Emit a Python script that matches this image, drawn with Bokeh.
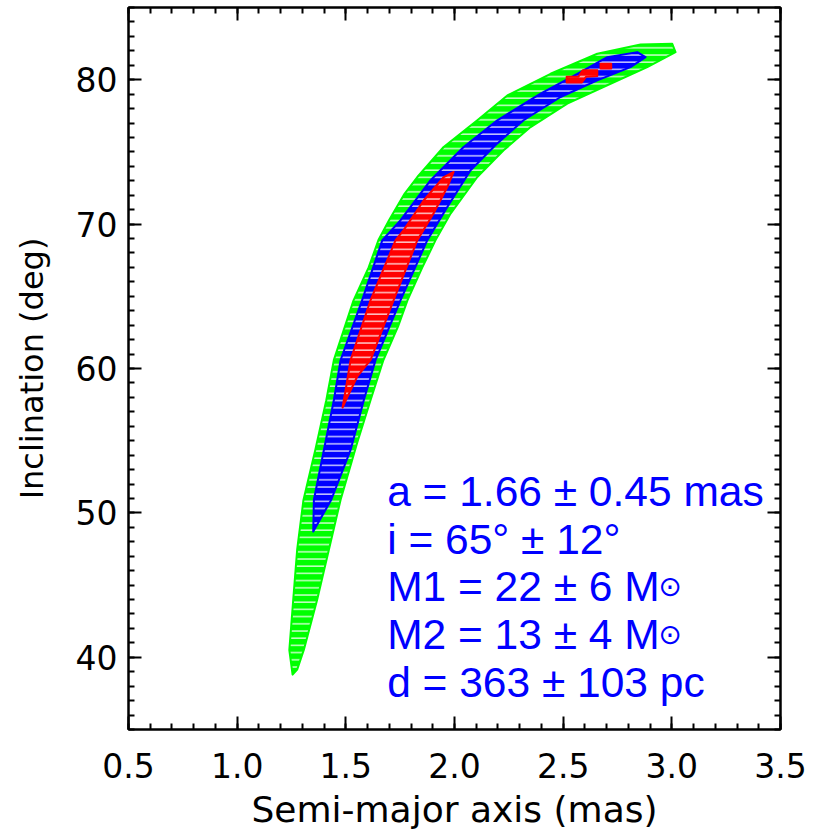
from bokeh.plotting import figure
from bokeh.models import Range1d, LinearAxis, SingleIntervalTicker, NumeralTickFormatter, Label
from bokeh.embed import file_html
from bokeh.resources import INLINE

# ---- data: region outlines in (a [mas], i [deg]) ----
green_a = [1.255, 1.240, 1.258, 1.276, 1.305, 1.360, 1.410, 1.445, 1.535, 1.605, 1.650, 1.700,
           1.770, 1.829, 1.950, 2.105, 2.243, 2.442, 2.657, 2.856, 3.002,
           3.017, 2.887, 2.718, 2.519, 2.350, 2.226, 2.105, 1.982, 1.913, 1.852, 1.784,
           1.740, 1.673, 1.614, 1.552, 1.476, 1.422, 1.368, 1.307, 1.276]
green_i = [38.8, 40.5, 44.0, 47.45, 50.9, 54.4, 57.8, 60.6, 64.7, 67.0, 68.9, 70.3,
           72.1, 73.26, 75.34, 77.19, 78.91, 80.41, 81.80, 82.44, 82.49,
           81.91, 80.87, 79.72, 78.34, 76.72, 75.11, 73.26, 70.73, 68.89, 67.0, 64.74,
           62.9, 60.59, 57.82, 54.85, 50.91, 47.45, 43.99, 40.53, 39.15]

blue_a = [1.350, 1.353, 1.399, 1.445, 1.476, 1.575, 1.668, 1.752, 1.890, 2.042, 2.197, 2.396,
          2.565, 2.703, 2.841, 2.879,
          2.810, 2.657, 2.488, 2.318, 2.197, 2.074, 1.967, 1.875, 1.752, 1.637, 1.583,
          1.522, 1.433]
blue_i = [48.71, 50.91, 54.36, 57.82, 60.59, 64.74, 68.89, 70.27, 73.04, 75.34, 77.19, 79.03,
          80.41, 81.56, 81.91, 81.56,
          80.87, 79.95, 78.80, 77.19, 75.59, 73.73, 71.19, 68.89, 64.74, 60.59, 57.82,
          54.36, 50.91]

red_a = [1.485, 1.500, 1.522, 1.614, 1.729, 1.766, 1.859, 1.951, 1.996,
         1.967, 1.904, 1.829, 1.720, 1.614, 1.552, 1.500]
red_i = [57.30, 58.6, 60.59, 64.74, 68.89, 69.58, 71.65, 73.26, 73.61,
         72.57, 70.75, 68.89, 64.74, 60.59, 59.43, 57.8]

red_blob1_a = [2.516, 2.585, 2.605, 2.657, 2.657, 2.590, 2.570, 2.516]
red_blob1_i = [79.80, 79.80, 80.20, 80.25, 80.65, 80.65, 80.20, 80.20]
red_blob2_a = [2.672, 2.721, 2.721, 2.672]
red_blob2_i = [80.78, 80.78, 81.10, 81.10]

result_lines = ["a = 1.66 \u00b1 0.45 mas",
                "i = 65\u00b0 \u00b1 12\u00b0",
                "M1 = 22 \u00b1 6 M",
                "M2 = 13 \u00b1 4 M",
                "d = 363 \u00b1 103 pc"]
sun_lines = [2, 3]

x_label = "Semi-major axis (mas)"
y_label = "Inclination (deg)"

# ---- figure ----
p = figure(width=821, height=832, output_backend="svg", toolbar_location=None,
           x_range=Range1d(0.5, 3.5), y_range=Range1d(35, 85),
           min_border_left=128, min_border_right=41, min_border_top=7, min_border_bottom=102,
           x_axis_label=x_label, y_axis_label=y_label)
p.grid.visible = False
p.outline_line_color = "black"
p.outline_line_width = 2
p.background_fill_color = "white"
p.border_fill_color = "white"

GREEN, BLUE, RED = "#00ff00", "#0000ff", "#ff0000"
hatch = dict(hatch_pattern="horizontal_line", hatch_color="white",
             hatch_scale=7.2, hatch_weight=1.3, hatch_alpha=0.9)

p.patch(green_a, green_i, fill_color=GREEN, line_color=GREEN, line_width=2, line_join="round", **hatch)
p.patch(blue_a, blue_i, fill_color=BLUE, line_color=BLUE, line_width=2, line_join="round", **hatch)
p.patches([red_a, red_blob1_a, red_blob2_a], [red_i, red_blob1_i, red_blob2_i],
          fill_color=RED, line_color=RED, line_width=2, line_join="round", **hatch)

# ---- axes (IDL style: ticks inward on all four sides) ----
def style(ax, labels=True):
    ax.axis_line_width = 2
    ax.major_tick_line_width = 2
    ax.minor_tick_line_width = 2
    ax.major_tick_in = 13
    ax.major_tick_out = 0
    ax.minor_tick_in = 6
    ax.minor_tick_out = 0
    if labels:
        ax.major_label_text_font = "DejaVu Sans"
        ax.major_label_text_font_size = "33px"
        ax.major_label_text_color = "black"
        ax.axis_label_text_font = "DejaVu Sans"
        ax.axis_label_text_font_style = "normal"
        ax.axis_label_text_color = "black"
    else:
        ax.major_label_text_font_size = "1px"
        ax.major_label_text_color = None
        ax.major_label_standoff = 0

xa = p.xaxis[0]
xa.ticker = SingleIntervalTicker(interval=0.5, num_minor_ticks=5)
xa.formatter = NumeralTickFormatter(format="0.0")
style(xa)
xa.axis_label_text_font_size = "36px"
xa.major_label_standoff = 23
xa.axis_label_standoff = 8

ya = p.yaxis[0]
ya.ticker = SingleIntervalTicker(interval=10, num_minor_ticks=10)
style(ya)
ya.axis_label_text_font_size = "32px"
ya.major_label_standoff = 11
ya.axis_label_standoff = 22

top = LinearAxis(ticker=SingleIntervalTicker(interval=0.5, num_minor_ticks=5))
style(top, labels=False)
p.add_layout(top, "above")
right = LinearAxis(ticker=SingleIntervalTicker(interval=10, num_minor_ticks=10))
style(right, labels=False)
p.add_layout(right, "right")

# ---- result text ----
text_a = 1.69
base_i = 51.5
step_i = 3.31
for k, line in enumerate(result_lines):
    p.add_layout(Label(x=text_a, y=base_i - k * step_i, text=line,
                       text_font="Liberation Sans", text_font_size="42.5px",
                       text_color=BLUE, text_baseline="alphabetic", text_align="left"))
for k in sun_lines:
    p.add_layout(Label(x=text_a, y=base_i - k * step_i, x_offset=271, text="\u2299",
                       text_font="DejaVu Sans", text_font_size="28px",
                       text_color=BLUE, text_baseline="alphabetic", text_align="left"))

open("out.html", "w").write(file_html(p, INLINE))
